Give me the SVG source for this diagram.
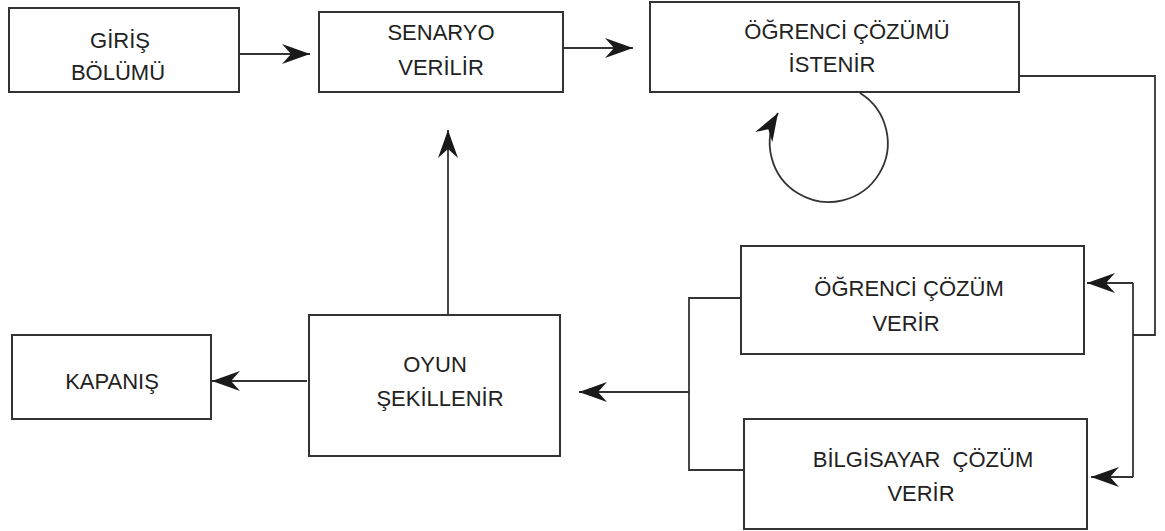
<svg xmlns="http://www.w3.org/2000/svg" width="1165" height="531" viewBox="0 0 1165 531">
<style>
.box{fill:#fff;stroke:#333;stroke-width:2}
.t{font-family:"Liberation Sans",Arial,sans-serif;font-size:22px;fill:#222;text-anchor:middle;white-space:pre}
.c{fill:none;stroke:#333;stroke-width:1.8}
</style>
<defs>
<marker id="ah" markerUnits="userSpaceOnUse" markerWidth="30" markerHeight="22" refX="28" refY="10" orient="auto" overflow="visible">
<path d="M28,10 L0,0 L9,10 L0,20 Z" fill="#1a1a1a"/>
</marker>
</defs>
<rect width="1165" height="531" fill="#fff"/>
<g id="connectors">
<path class="c" d="M239,54 H310" marker-end="url(#ah)"/>
<path class="c" d="M563,48 H633" marker-end="url(#ah)"/>
<path class="c" d="M1019,76 H1155 V335 H1133"/>
<path class="c" d="M1133,283 V477"/>
<path class="c" d="M1133,283 H1087" marker-end="url(#ah)"/>
<path class="c" d="M1133,477 H1091" marker-end="url(#ah)"/>
<path class="c" d="M741,298 H689 V470 H744"/>
<path class="c" d="M689,392 H579" marker-end="url(#ah)"/>
<path class="c" d="M307,381 H212" marker-end="url(#ah)"/>
<path class="c" d="M448,315 V130" marker-end="url(#ah)"/>
<path class="c" d="M860,93 A59,59 0 1 1 778,113" marker-end="url(#ah)"/>
</g>
<g id="giris">
<rect class="box" x="9" y="8" width="230" height="84"/>
<text class="t" x="120" y="48">GİRİŞ</text>
<text class="t" x="118" y="80">BÖLÜMÜ</text>
</g>
<g id="senaryo">
<rect class="box" x="319" y="12" width="244" height="80"/>
<text class="t" x="441" y="40">SENARYO</text>
<text class="t" x="441" y="75">VERİLİR</text>
</g>
<g id="ogrenci-cozumu">
<rect class="box" x="650" y="2" width="369" height="90"/>
<text class="t" x="847" y="39">ÖĞRENCİ ÇÖZÜMÜ</text>
<text class="t" x="832" y="72">İSTENİR</text>
</g>
<g id="ogrenci-cozum-verir">
<rect class="box" x="741" y="246" width="343" height="108"/>
<text class="t" x="909" y="296">ÖĞRENCİ ÇÖZÜM</text>
<text class="t" x="906" y="331">VERİR</text>
</g>
<g id="bilgisayar-cozum-verir">
<rect class="box" x="744" y="419" width="343" height="110"/>
<text class="t" x="923" y="467">BİLGİSAYAR  ÇÖZÜM</text>
<text class="t" x="921" y="501">VERİR</text>
</g>
<g id="oyun">
<rect class="box" x="309" y="315" width="251" height="141"/>
<text class="t" x="435" y="372">OYUN</text>
<text class="t" x="440" y="406">ŞEKİLLENİR</text>
</g>
<g id="kapanis">
<rect class="box" x="12" y="335" width="199" height="84"/>
<text class="t" x="112" y="389">KAPANIŞ</text>
</g>
</svg>
